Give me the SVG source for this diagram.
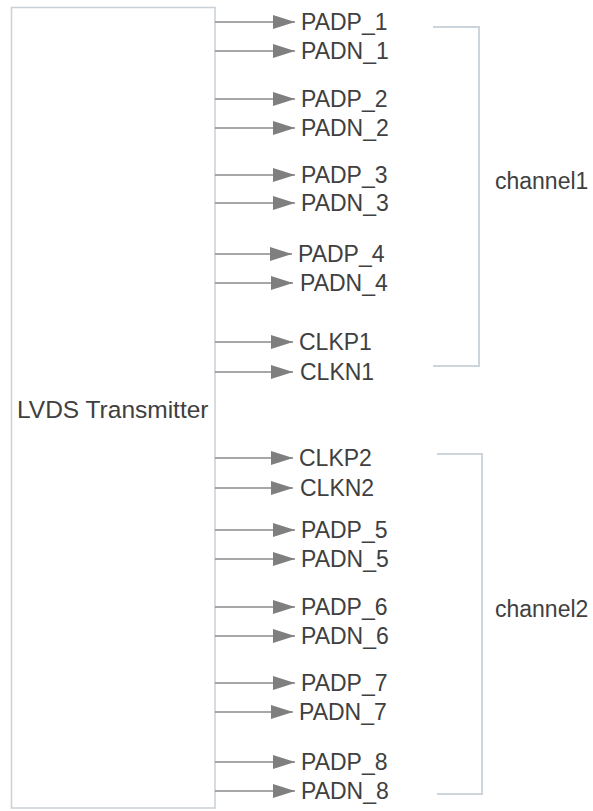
<svg xmlns="http://www.w3.org/2000/svg" width="593" height="811" viewBox="0 0 593 811">
<defs>
<marker id="ah" markerWidth="22" markerHeight="14" refX="22" refY="7" orient="auto" markerUnits="userSpaceOnUse">
<path d="M0,0 L22,7 L0,14 Z" fill="#7f7f7f"/>
</marker>
<style>
.lbl{font-family:"Liberation Sans",Arial,sans-serif;font-size:23px;fill:#404040}
.wire{stroke:#8a8a8a;stroke-width:1.5;fill:none}
.brk{stroke:#cdd5dc;stroke-width:2;fill:none}
</style>
</defs>
<rect width="593" height="811" fill="#ffffff"/>
<g id="transmitter">
<rect x="11.5" y="7.5" width="203.5" height="800.5" fill="#ffffff" stroke="#c8d0d8" stroke-width="1.5"/>
<text class="lbl" x="17" y="418" style="font-size:24.5px">LVDS Transmitter</text>
</g>
<g id="connectors">
<line class="wire" x1="215" y1="22" x2="295" y2="22" marker-end="url(#ah)"/>
<line class="wire" x1="215" y1="51" x2="295" y2="51" marker-end="url(#ah)"/>
<line class="wire" x1="215" y1="99" x2="295" y2="99" marker-end="url(#ah)"/>
<line class="wire" x1="215" y1="128" x2="295" y2="128" marker-end="url(#ah)"/>
<line class="wire" x1="215" y1="175" x2="295" y2="175" marker-end="url(#ah)"/>
<line class="wire" x1="215" y1="203" x2="295" y2="203" marker-end="url(#ah)"/>
<line class="wire" x1="215" y1="254" x2="292" y2="254" marker-end="url(#ah)"/>
<line class="wire" x1="215" y1="283" x2="293" y2="283" marker-end="url(#ah)"/>
<line class="wire" x1="215" y1="342" x2="293" y2="342" marker-end="url(#ah)"/>
<line class="wire" x1="215" y1="372" x2="293" y2="372" marker-end="url(#ah)"/>
<line class="wire" x1="215" y1="458" x2="293" y2="458" marker-end="url(#ah)"/>
<line class="wire" x1="215" y1="488" x2="293" y2="488" marker-end="url(#ah)"/>
<line class="wire" x1="215" y1="530" x2="295" y2="530" marker-end="url(#ah)"/>
<line class="wire" x1="215" y1="559" x2="295" y2="559" marker-end="url(#ah)"/>
<line class="wire" x1="215" y1="607" x2="295" y2="607" marker-end="url(#ah)"/>
<line class="wire" x1="215" y1="636" x2="295" y2="636" marker-end="url(#ah)"/>
<line class="wire" x1="215" y1="683" x2="295" y2="683" marker-end="url(#ah)"/>
<line class="wire" x1="215" y1="712" x2="293" y2="712" marker-end="url(#ah)"/>
<line class="wire" x1="215" y1="762" x2="295" y2="762" marker-end="url(#ah)"/>
<line class="wire" x1="215" y1="791" x2="295" y2="791" marker-end="url(#ah)"/>
</g>
<g id="pins">
<text class="lbl" x="301" y="30">PADP_1</text>
<text class="lbl" x="301" y="59">PADN_1</text>
<text class="lbl" x="301" y="107">PADP_2</text>
<text class="lbl" x="301" y="136">PADN_2</text>
<text class="lbl" x="301" y="183">PADP_3</text>
<text class="lbl" x="301" y="211">PADN_3</text>
<text class="lbl" x="298" y="262">PADP_4</text>
<text class="lbl" x="300" y="291">PADN_4</text>
<text class="lbl" x="299" y="350">CLKP1</text>
<text class="lbl" x="300" y="380">CLKN1</text>
<text class="lbl" x="299" y="466">CLKP2</text>
<text class="lbl" x="300" y="496">CLKN2</text>
<text class="lbl" x="301" y="538">PADP_5</text>
<text class="lbl" x="301" y="567">PADN_5</text>
<text class="lbl" x="301" y="615">PADP_6</text>
<text class="lbl" x="301" y="644">PADN_6</text>
<text class="lbl" x="301" y="691">PADP_7</text>
<text class="lbl" x="299" y="720">PADN_7</text>
<text class="lbl" x="301" y="770">PADP_8</text>
<text class="lbl" x="301" y="799">PADN_8</text>
</g>
<g id="channel1">
<polyline class="brk" points="433,27 479,27 479,366 433,366"/>
<text class="lbl" x="495" y="189">channel1</text>
</g>
<g id="channel2">
<polyline class="brk" points="437,454 482,454 482,794 437,794"/>
<text class="lbl" x="495" y="617">channel2</text>
</g>
</svg>
